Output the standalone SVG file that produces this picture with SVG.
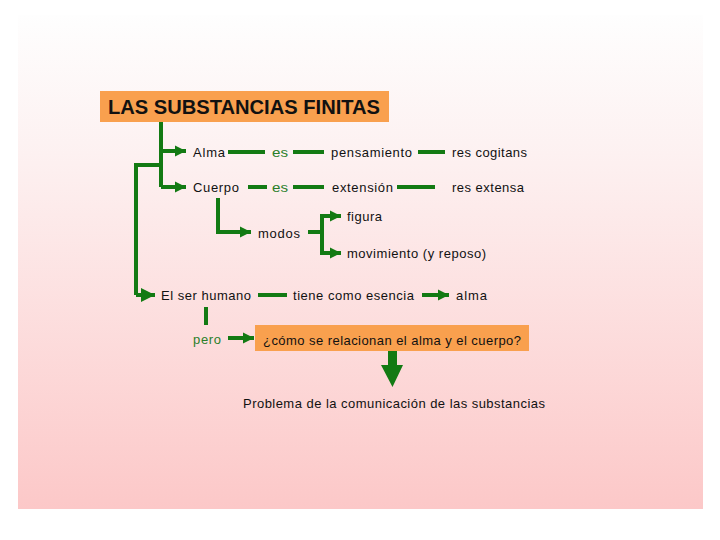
<svg xmlns="http://www.w3.org/2000/svg" width="720" height="540" viewBox="0 0 720 540">
<defs>
<linearGradient id="bg" x1="0" y1="0" x2="0" y2="1">
<stop offset="0" stop-color="#fefefe"/>
<stop offset="0.3" stop-color="#fdf0f0"/>
<stop offset="1" stop-color="#fcc8c8"/>
</linearGradient>
<marker id="ah" viewBox="0 0 10 10" refX="10" refY="5" markerWidth="2.8" markerHeight="2.8" orient="auto" markerUnits="strokeWidth">
<path d="M0,0 L10,5 L0,10 Z" fill="#137a13"/>
</marker>
<marker id="ahb" viewBox="0 0 10 10" refX="10" refY="5" markerWidth="3.6" markerHeight="3.6" orient="auto" markerUnits="strokeWidth">
<path d="M0,0 L10,5 L0,10 Z" fill="#137a13"/>
</marker>
<style>
.t{font-family:"Liberation Sans",Arial,sans-serif;font-size:13px;fill:#111}
.g{font-family:"Liberation Sans",Arial,sans-serif;font-size:13px;fill:#2a7f2a}
.ttl{font-family:"Liberation Sans",Arial,sans-serif;font-size:20px;font-weight:bold;fill:#111}
.box{fill:#f9a04e}
.c{stroke:#137a13;stroke-width:4;fill:none}
.a{stroke:#137a13;stroke-width:4;fill:none;marker-end:url(#ah)}
.ab{stroke:#137a13;stroke-width:4;fill:none;marker-end:url(#ahb)}
</style>
</defs>
<rect x="0" y="0" width="720" height="540" fill="#ffffff"/>
<rect x="18" y="15" width="685" height="494" fill="url(#bg)"/>

<g id="connectors">
<path class="c" d="M161,122 V187"/>
<path class="a" d="M161,151 H186"/>
<path class="a" d="M161,187 H186"/>
<path class="c" d="M161,165 H136 V295"/>
<path class="ab" d="M136,295 H155"/>
<path class="c" d="M228,152 H265"/>
<path class="c" d="M293,152 H324"/>
<path class="c" d="M418,152 H445"/>
<path class="c" d="M248,187 H267"/>
<path class="c" d="M293,187 H324"/>
<path class="c" d="M397,187 H435"/>
<path class="c" d="M218,198 V232"/>
<path class="a" d="M216,232 H251"/>
<path class="c" d="M308,232 H322"/>
<path class="c" d="M322,216 V253"/>
<path class="a" d="M320,216 H341"/>
<path class="a" d="M320,253 H341"/>
<path class="c" d="M258,295 H287"/>
<path class="a" d="M422,295 H449"/>
<path class="c" d="M206,307 V325"/>
<path class="a" d="M228,338 H254"/>
<path d="M388,351 H397 V365 H403 L392.5,387 L381,365 H388 Z" fill="#137a13"/>
</g>

<g id="title">
<rect class="box" x="100" y="91" width="289" height="31"/>
<text class="ttl" x="108" y="114" textLength="272" lengthAdjust="spacingAndGlyphs">LAS SUBSTANCIAS FINITAS</text>
</g>
<g id="alma"><text class="t" x="193" y="157" textLength="32">Alma</text></g>
<g id="es1"><text class="g" x="272" y="157" textLength="16" lengthAdjust="spacingAndGlyphs">es</text></g>
<g id="pensamiento"><text class="t" x="331" y="157" textLength="81">pensamiento</text></g>
<g id="res-cogitans"><text class="t" x="452" y="157" textLength="75">res cogitans</text></g>
<g id="cuerpo"><text class="t" x="193" y="192" textLength="46">Cuerpo</text></g>
<g id="es2"><text class="g" x="272" y="192" textLength="16" lengthAdjust="spacingAndGlyphs">es</text></g>
<g id="extension"><text class="t" x="332" y="192" textLength="61">extensión</text></g>
<g id="res-extensa"><text class="t" x="452" y="192" textLength="72">res extensa</text></g>
<g id="modos"><text class="t" x="258" y="238" textLength="42">modos</text></g>
<g id="figura"><text class="t" x="347" y="221" textLength="35">figura</text></g>
<g id="movimiento"><text class="t" x="347" y="258" textLength="139">movimiento (y reposo)</text></g>
<g id="ser-humano"><text class="t" x="161" y="300" textLength="90">El ser humano</text></g>
<g id="tiene"><text class="t" x="293" y="300" textLength="121">tiene como esencia</text></g>
<g id="alma2"><text class="t" x="456" y="300" textLength="31">alma</text></g>
<g id="pero"><text class="g" x="193" y="344" textLength="28">pero</text></g>
<g id="pregunta">
<rect class="box" x="255" y="325" width="274" height="26"/>
<text class="t" x="263" y="345" textLength="258">¿cómo se relacionan el alma y el cuerpo?</text>
</g>
<g id="problema"><text class="t" x="243" y="408" textLength="302">Problema de la comunicación de las substancias</text></g>
</svg>
